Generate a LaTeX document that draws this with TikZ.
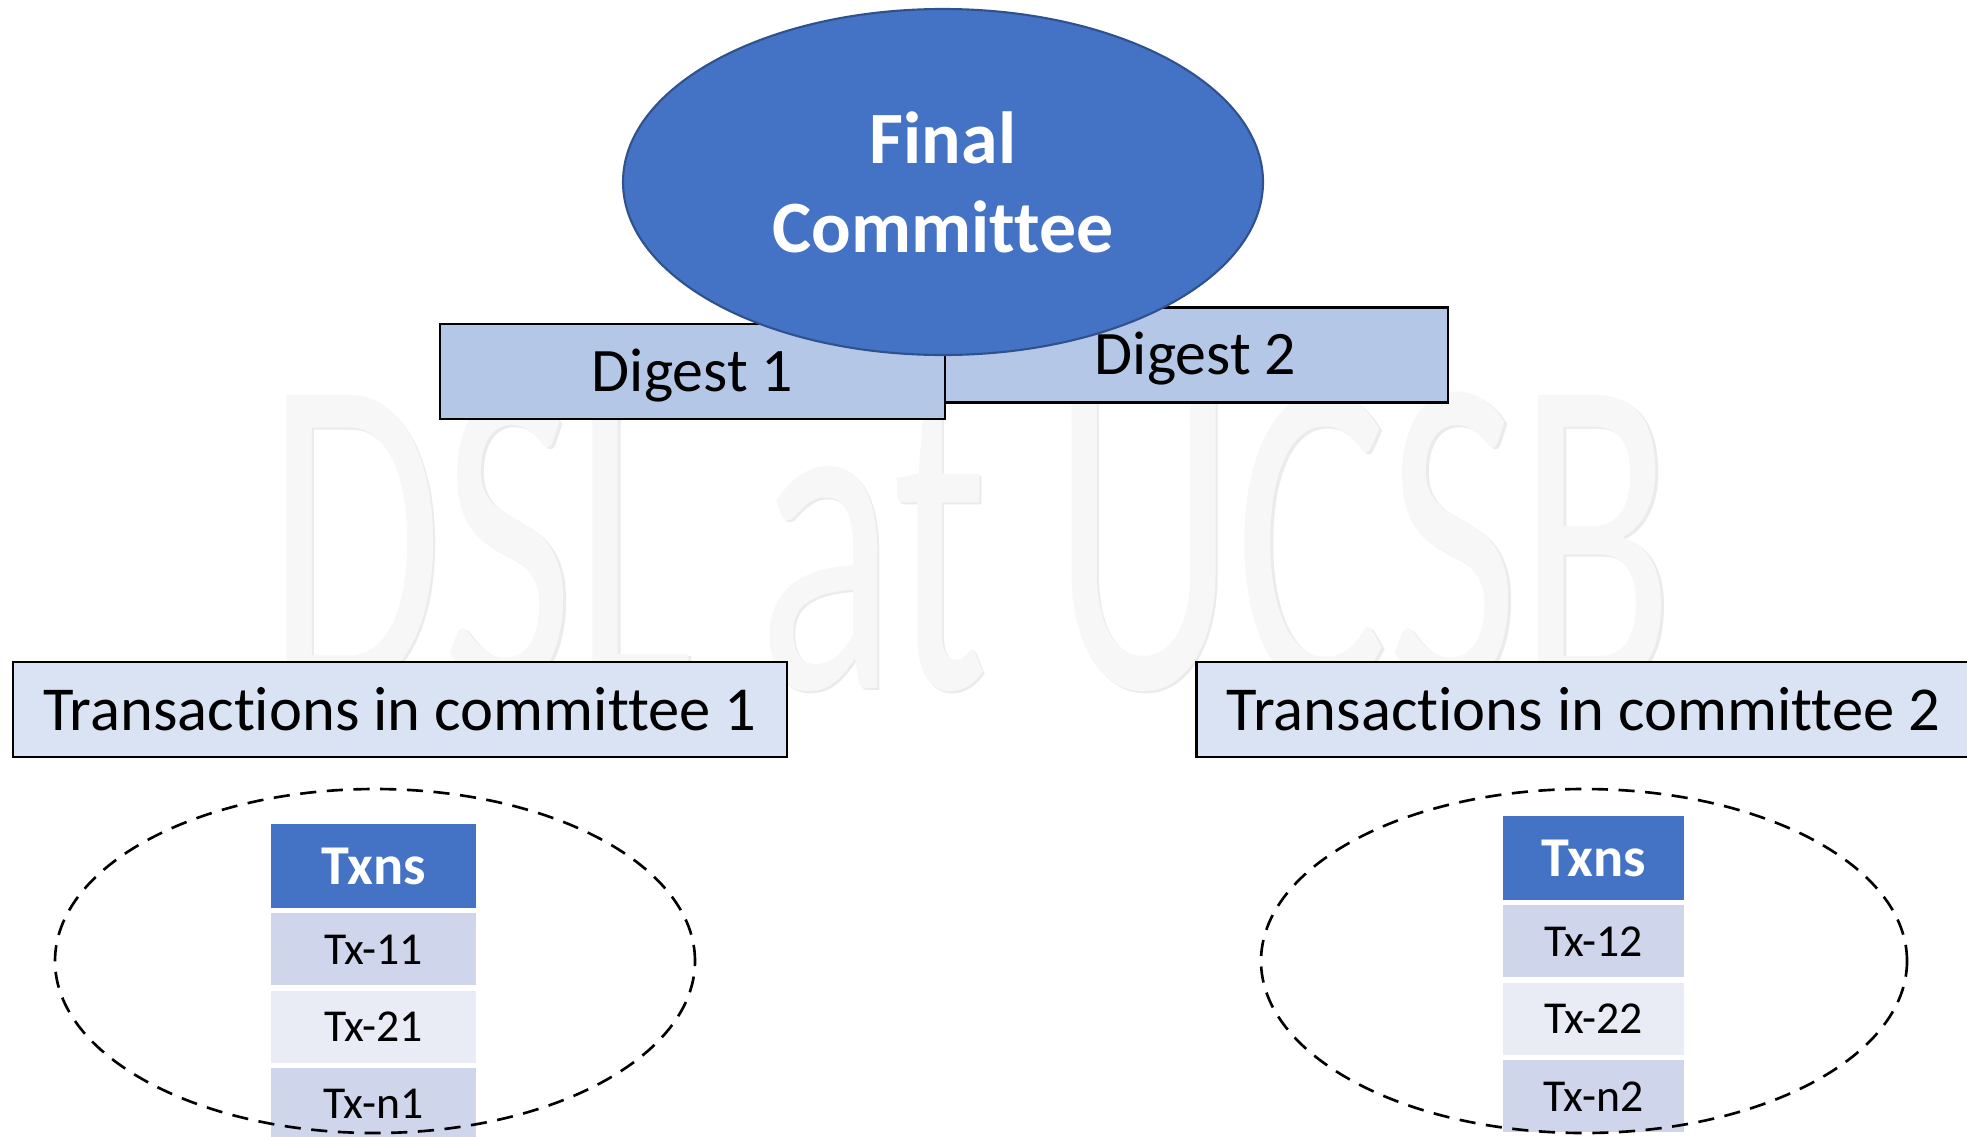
\documentclass[tikz,border=0pt]{standalone}
\usepackage{fontspec}
\setmainfont{Carlito}[Ligatures=NoCommon]
\usepackage{xcolor}
\usetikzlibrary{calc, shapes.geometric, positioning}

\definecolor{officeblue}{HTML}{4472C4}
\definecolor{officeedge}{HTML}{2F528F}
\definecolor{digestfill}{HTML}{B4C7E7}
\definecolor{txfill}{HTML}{DAE3F3}
\definecolor{rowdark}{HTML}{CFD5EA}
\definecolor{rowlight}{HTML}{E9EBF5}

\begin{document}
\begin{tikzpicture}[
    digestbox/.style={draw=black, line width=0.8pt, fill=digestfill, minimum width=5.05cm, minimum height=0.95cm, inner sep=0pt, text height=15pt, text depth=3.8pt, font=\fontsize{17.6}{21}\selectfont},
    txbox/.style={draw=black, line width=0.8pt, fill=txfill, minimum width=7.74cm, minimum height=0.95cm, inner sep=0pt, font=\fontsize{17.8}{21}\selectfont},
    headcell/.style={fill=officeblue, text=white, inner sep=0pt, minimum height=0.84cm, font=\bfseries\fontsize{16}{19}\selectfont},
    rowcell/.style={inner sep=0pt, minimum height=0.72cm, font=\fontsize{13}{16}\selectfont},
    pool/.style={draw=black, dash pattern=on 4.6pt off 3pt, line width=0.75pt},
    mark text/.style={anchor=base, inner sep=0pt, xscale=0.625, font=\fontsize{130}{130}\selectfont},
    node distance=0.04cm
]
    % Khung của hình
    \useasboundingbox (0,0) rectangle (19.67,11.36);

    % Chữ chìm phía sau (bóng mờ rồi lớp chữ sáng)
    \node[mark text, text=gray!16] (wmshadow) at (9.735,4.46) {DSL at UCSB};
    \node[mark text, text=gray!6] (wm) at (9.71,4.48) {DSL at UCSB};

    % Hai ô digest (ô 2 nằm dưới ô 1)
    \node[digestbox] (dig2) at (11.955,7.81) {Digest 2};
    \node[digestbox] (dig1) at (6.925,7.645) {Digest 1};

    % Ellipse của ủy ban cuối cùng, đè lên hai ô digest
    \node[ellipse, draw=officeedge, line width=0.6pt, fill=officeblue, minimum width=6.40cm, minimum height=3.46cm, inner sep=0pt,
          text=white, align=center, font=\bfseries\fontsize{21}{25.3}\selectfont] (final) at (9.43,9.54) {Final\\Committee};

    % Hai ô tiêu đề giao dịch
    \node[txbox] (tc1) at (4.00,4.265) {Transactions in committee 1};
    \node[txbox] (tc2) at (15.835,4.265) {Transactions in committee 2};

    % Bảng giao dịch của ủy ban 1
    \node[headcell, minimum width=2.05cm] (h1) at (3.735,2.70) {Txns};
    \node[rowcell, minimum width=2.05cm, fill=rowdark, below=of h1] (r11) {Tx-11};
    \node[rowcell, minimum width=2.05cm, fill=rowlight, below=of r11] (r21) {Tx-21};
    \node[rowcell, minimum width=2.05cm, fill=rowdark, below=of r21] (rn1) {Tx-n1};

    % Bảng giao dịch của ủy ban 2
    \node[headcell, minimum width=1.81cm] (h2) at (15.935,2.78) {Txns};
    \node[rowcell, minimum width=1.81cm, fill=rowdark, below=of h2] (r12) {Tx-12};
    \node[rowcell, minimum width=1.81cm, fill=rowlight, below=of r12] (r22) {Tx-22};
    \node[rowcell, minimum width=1.81cm, fill=rowdark, below=of r22] (rn2) {Tx-n2};

    % Đường nét đứt bao quanh mỗi bảng
    \coordinate (p1) at (3.75,1.75);
    \coordinate (p2) at (15.84,1.75);
    \draw[pool] (p1) ellipse [x radius=3.20, y radius=1.72];
    \draw[pool] (p2) ellipse [x radius=3.23, y radius=1.72];

\end{tikzpicture}
\end{document}
